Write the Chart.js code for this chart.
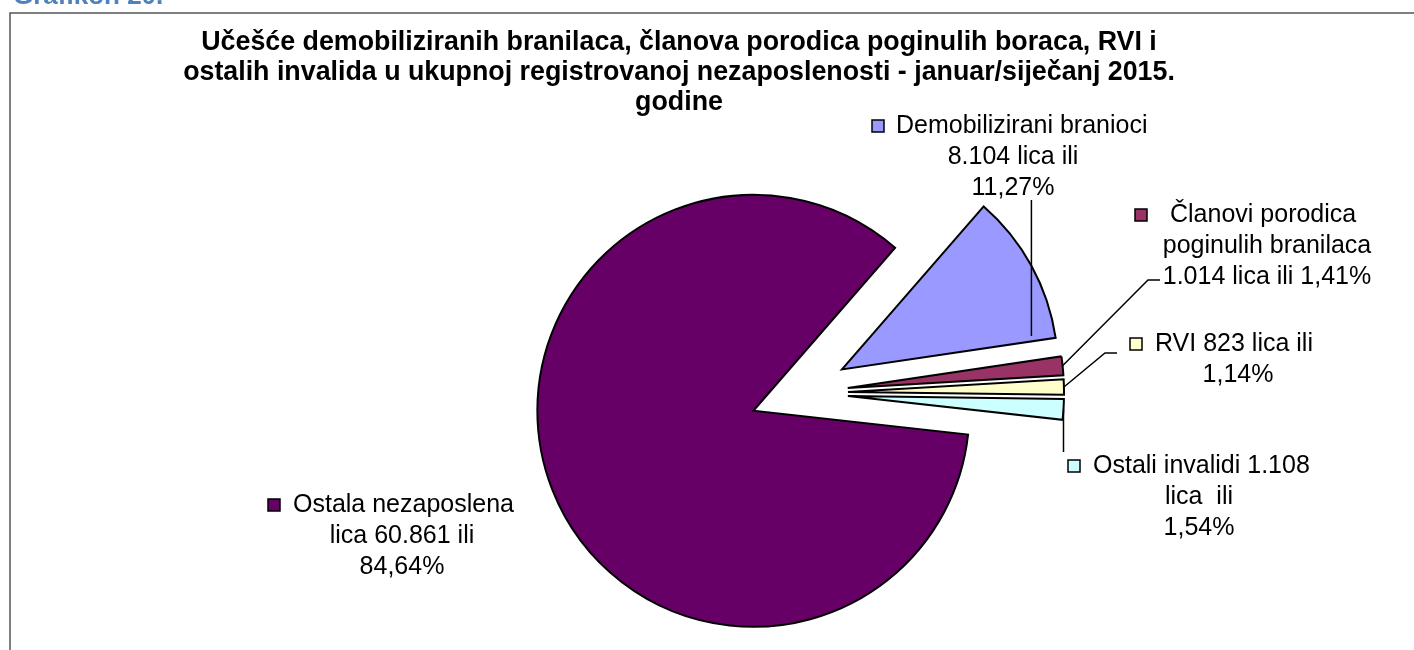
<!DOCTYPE html>
<html>
<head>
<meta charset="utf-8">
<script src="https://cdn.jsdelivr.net/npm/chart.js@4.4.1/dist/chart.umd.min.js"></script>
<style>
html,body{margin:0;padding:0;background:#fff;width:1414px;height:650px;overflow:hidden}
#c{position:absolute;left:0;top:0}
</style>
</head>
<body>
<canvas id="c" width="1414" height="650"></canvas>
<script>
// ---- data ----
const categories = ['Demobilizirani branioci', 'Članovi porodica poginulih branilaca', 'RVI', 'Ostali invalidi', 'Ostala nezaposlena lica'];
const counts = [8104, 1014, 823, 1108, 60861];
const percents = ['11,27%', '1,41%', '1,14%', '1,54%', '84,64%'];
const colors = ['#9999FF', '#993366', '#FFFFCC', '#CCFFFF', '#660066'];
const labelLines = [
  ['Demobilizirani branioci', '8.104 lica ili', '11,27%'],
  ['Članovi porodica', 'poginulih branilaca', '1.014 lica ili 1,41%'],
  ['RVI 823 lica ili', '1,14%'],
  ['Ostali invalidi 1.108', 'lica  ili', '1,54%'],
  ['Ostala nezaposlena', 'lica 60.861 ili', '84,64%']
];
const titleLines = [
  'Učešće demobiliziranih branilaca, članova porodica poginulih boraca, RVI i',
  'ostalih invalida u ukupnoj registrovanoj nezaposlenosti - januar/siječanj 2015.',
  'godine'
];
const headingText = 'Grafikon 20.';

// ---- layout (positions / styles) ----
const PIE_RADIUS = 216;
const EXPLODE_PX = 49;         // distance each slice is pulled out from the pie centre
const LABEL_FONT = '25px "Liberation Sans", Arial, sans-serif';
const TITLE_FONT = 'bold 26.8px "Liberation Sans", Arial, sans-serif';
const LINE_H = 31;
const labelLayout = [
  {keyX: 872, textX: 896, cx: 1013, y0: 126, leader: [{x: null, y: 200}], end: {y: 336}},
  {keyX: 1135, textX: 1170, cx: 1267, y0: 215, leader: [{x: 1160, y: 280}, {x: 1148, y: 280}]},
  {keyX: 1130, textX: 1155, cx: 1238, y0: 344, leader: [{x: 1117, y: 353}, {x: 1105, y: 353}]},
  {keyX: 1068, textX: 1093, cx: 1199, y0: 466, leader: [{x: null, y: 452}]},
  {keyX: 268, textX: 293, cx: 402, y0: 505, leader: null}
];

const framePlugin = {
  id: 'frame',
  beforeDraw(chart) {
    const ctx = chart.ctx;
    ctx.save();
    ctx.fillStyle = '#fff';
    ctx.fillRect(0, 0, chart.width, chart.height);
    ctx.strokeStyle = '#555';
    ctx.lineWidth = 1.5;
    ctx.beginPath();
    ctx.moveTo(1414, 13);
    ctx.lineTo(10, 13);
    ctx.lineTo(10, 650);
    ctx.stroke();
    // cropped heading above the frame
    ctx.fillStyle = '#4F81BD';
    ctx.font = 'bold 26px "Liberation Sans", Arial, sans-serif';
    ctx.textAlign = 'left';
    ctx.textBaseline = 'alphabetic';
    ctx.fillText(headingText, 13, 4);
    // title
    ctx.fillStyle = '#000';
    ctx.font = TITLE_FONT;
    ctx.textAlign = 'center';
    ctx.textBaseline = 'middle';
    titleLines.forEach((t, i) => ctx.fillText(t, 679, 43 + i * 30));
    ctx.restore();
  }
};

// pull every slice out along its bisector (exploded pie)
const explodePlugin = {
  id: 'explode',
  beforeDatasetsDraw(chart) {
    const a = chart.chartArea;
    const cx = (a.left + a.right) / 2, cy = (a.top + a.bottom) / 2;
    chart.getDatasetMeta(0).data.forEach(arc => {
      const mid = (arc.startAngle + arc.endAngle) / 2;
      arc.x = cx + Math.cos(mid) * EXPLODE_PX;
      arc.y = cy + Math.sin(mid) * EXPLODE_PX;
    });
  }
};

const labelPlugin = {
  id: 'sliceLabels',
  afterDatasetsDraw(chart) {
    const ctx = chart.ctx;
    const arcs = chart.getDatasetMeta(0).data;
    ctx.save();
    arcs.forEach((arc, i) => {
      const L = labelLayout[i];
      const mid = (arc.startAngle + arc.endAngle) / 2;
      const ax = arc.x + Math.cos(mid) * arc.outerRadius;
      const ay = arc.y + Math.sin(mid) * arc.outerRadius;
      if (L.leader) {
        ctx.strokeStyle = '#000';
        ctx.lineWidth = 1.5;
        ctx.beginPath();
        L.leader.forEach((p, k) => {
          const px = p.x === null ? ax : p.x;
          if (k === 0) ctx.moveTo(px, p.y); else ctx.lineTo(px, p.y);
        });
        ctx.lineTo(ax, L.end ? L.end.y : ay);
        ctx.stroke();
      }
      // legend key
      ctx.fillStyle = colors[i];
      ctx.fillRect(L.keyX, L.y0 - 6, 12, 12);
      ctx.strokeStyle = '#000';
      ctx.lineWidth = 1.5;
      ctx.strokeRect(L.keyX, L.y0 - 6, 12, 12);
      ctx.fillStyle = '#000';
      ctx.font = LABEL_FONT;
      ctx.textBaseline = 'middle';
      labelLines[i].forEach((line, k) => {
        if (k === 0) {
          ctx.textAlign = 'left';
          ctx.fillText(line, L.textX, L.y0);
        } else {
          ctx.textAlign = 'center';
          ctx.fillText(line, L.cx, L.y0 + k * LINE_H);
        }
      });
    });
    ctx.restore();
  }
};

new Chart(document.getElementById('c'), {
  type: 'pie',
  data: {
    labels: categories,
    datasets: [{
      data: counts,
      backgroundColor: colors,
      borderColor: '#000',
      borderWidth: 2,
      borderJoinStyle: 'miter',
      offset: 0,
      hoverOffset: 0,
      clip: false
    }]
  },
  options: {
    responsive: false,
    animation: false,
    events: [],
    rotation: 41,
    radius: PIE_RADIUS,
    layout: {padding: {left: 184, right: 0, top: 136, bottom: 0}},
    plugins: {
      legend: {display: false},
      title: {display: false},
      tooltip: {enabled: false}
    }
  },
  plugins: [framePlugin, explodePlugin, labelPlugin]
});
</script>
</body>
</html>
